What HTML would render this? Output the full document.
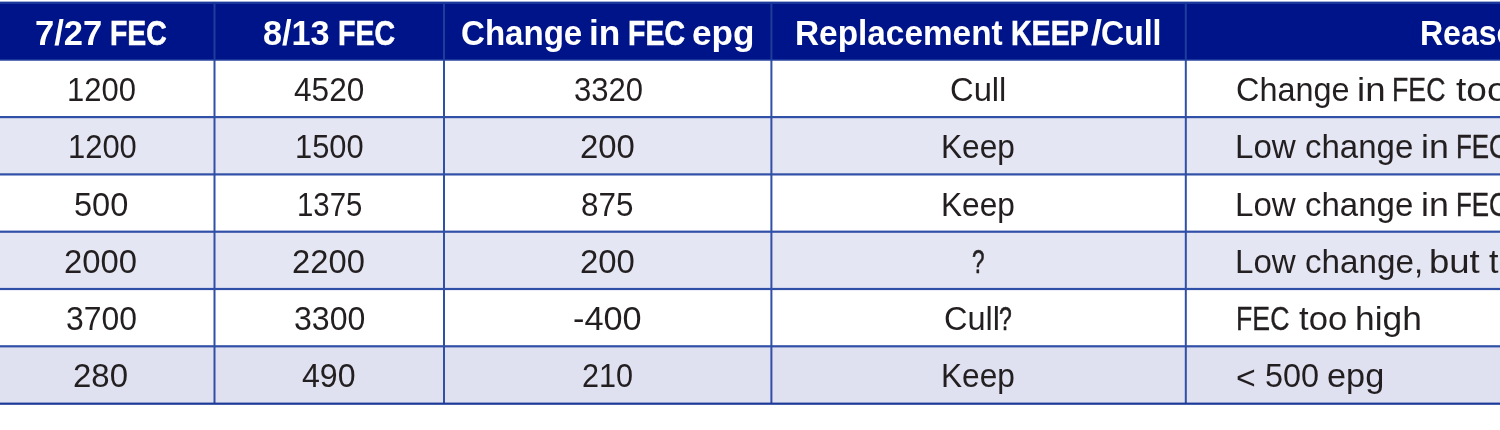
<!DOCTYPE html><html><head><meta charset="utf-8"><title>FEC table</title><style>html,body{margin:0;padding:0;background:#fff}
body{width:1500px;height:430px;position:relative;overflow:hidden;font-family:"Liberation Sans",sans-serif;color:#231f20}
.tbl{position:absolute;left:0;top:0;width:1500px;height:430px;overflow:hidden}
.grid{position:absolute;left:0;top:0}
.w{position:absolute;white-space:pre;transform-origin:0 0;line-height:40px;height:40px}
.h{font-weight:bold;font-size:34.5px;color:#fff}
.b{font-size:33.5px}
.n{font-size:32.8px}
</style></head><body><div class="tbl">
<svg class="grid" width="1500" height="430" viewBox="0 0 1500 430"><rect x="-5" y="1.6" width="1510" height="59.10" fill="#1c3a9c"/><rect x="-5" y="3.9" width="1510" height="55.20" fill="#001489"/><rect x="-5" y="117.10" width="1510" height="57.30" fill="#e5e6f3"/><rect x="-5" y="231.70" width="1510" height="57.30" fill="#e5e6f3"/><rect x="-5" y="346.30" width="1510" height="57.40" fill="#dfe0f0"/><rect x="213.50" y="3.9" width="2.0" height="56.80" fill="#1f3e9c"/><rect x="213.50" y="60.70" width="2.0" height="343.00" fill="#304fa6"/><rect x="443.00" y="3.9" width="2.0" height="56.80" fill="#1f3e9c"/><rect x="443.00" y="60.70" width="2.0" height="343.00" fill="#304fa6"/><rect x="770.40" y="3.9" width="2.0" height="56.80" fill="#1f3e9c"/><rect x="770.40" y="60.70" width="2.0" height="343.00" fill="#304fa6"/><rect x="1184.80" y="3.9" width="2.0" height="56.80" fill="#1f3e9c"/><rect x="1184.80" y="60.70" width="2.0" height="343.00" fill="#304fa6"/><rect x="-5" y="116.00" width="1510" height="2.2" fill="#304fa6"/><rect x="-5" y="173.30" width="1510" height="2.2" fill="#304fa6"/><rect x="-5" y="230.60" width="1510" height="2.2" fill="#304fa6"/><rect x="-5" y="287.90" width="1510" height="2.2" fill="#304fa6"/><rect x="-5" y="345.20" width="1510" height="2.2" fill="#304fa6"/><rect x="-5" y="402.60" width="1510" height="2.2" fill="#1c3a98"/></svg>
<div class="row head"><span class="cell"><span class="w h" style="left:34.52px;top:13px;transform:scaleX(1.0020)">7/27</span> <span class="w h" style="left:109.83px;top:13px;transform:scaleX(0.8219);-webkit-text-stroke:0.56px currentColor">FEC</span></span><span class="cell"><span class="w h" style="left:262.63px;top:13px;transform:scaleX(0.9922)">8/13</span> <span class="w h" style="left:337.81px;top:13px;transform:scaleX(0.8280);-webkit-text-stroke:0.54px currentColor">FEC</span></span><span class="cell"><span class="w h" style="left:461.27px;top:13px;transform:scaleX(0.9585)">Change</span> <span class="w h" style="left:588.80px;top:13px;transform:scaleX(1.0210)">in</span> <span class="w h" style="left:628.22px;top:13px;transform:scaleX(0.8264);-webkit-text-stroke:0.54px currentColor">FEC</span> <span class="w h" style="left:691.80px;top:13px;transform:scaleX(1.0181)">epg</span></span><span class="cell"><span class="w h" style="left:794.92px;top:13px;transform:scaleX(0.9669)">Replacement</span> <span class="w h" style="left:1010.92px;top:13px;transform:scaleX(0.8274);-webkit-text-stroke:0.54px currentColor">KEEP</span><span class="w h" style="left:1090.50px;top:13px;transform:scaleX(1.1440)">/</span><span class="w h" style="left:1101.40px;top:13px;transform:scaleX(0.9284)">Cull</span></span><span class="cell"><span class="w h" style="left:1420.10px;top:13px;transform:scaleX(0.9275)">Reason</span></span></div>
<div class="row"><span class="cell"><span class="w n" style="left:67.36px;top:70px;transform:scaleX(0.9458)">1200</span></span><span class="cell"><span class="w n" style="left:294.01px;top:70px;transform:scaleX(0.9632)">4520</span></span><span class="cell"><span class="w n" style="left:573.63px;top:70px;transform:scaleX(0.9462)">3320</span></span><span class="cell"><span class="w b" style="left:949.77px;top:70px;transform:scaleX(0.9772)">Cull</span></span><span class="cell"><span class="w b" style="left:1235.68px;top:70px;transform:scaleX(0.9675)">Change</span> <span class="w b" style="left:1356.81px;top:70px;transform:scaleX(1.0951)">in</span> <span class="w b" style="left:1392.41px;top:70px;transform:scaleX(0.7972);-webkit-text-stroke:0.37px currentColor">FEC</span> <span class="w b" style="left:1455.60px;top:70px;transform:scaleX(1.1061)">too</span></span></div>
<div class="row"><span class="cell"><span class="w n" style="left:67.57px;top:127px;transform:scaleX(0.9429)">1200</span></span><span class="cell"><span class="w n" style="left:295.07px;top:127px;transform:scaleX(0.9415)">1500</span></span><span class="cell"><span class="w n" style="left:579.96px;top:127px;transform:scaleX(1.0025)">200</span></span><span class="cell"><span class="w b" style="left:941.13px;top:127px;transform:scaleX(0.9439)">Keep</span></span><span class="cell"><span class="w b" style="left:1235.31px;top:127px;transform:scaleX(0.9891)">Low</span> <span class="w b" style="left:1305.47px;top:127px;transform:scaleX(0.9851)">change</span> <span class="w b" style="left:1421.36px;top:127px;transform:scaleX(1.0679)">in</span> <span class="w b" style="left:1456.48px;top:127px;transform:scaleX(0.7735);-webkit-text-stroke:0.41px currentColor">FEC</span></span></div>
<div class="row"><span class="cell"><span class="w n" style="left:73.98px;top:185px;transform:scaleX(0.9927)">500</span></span><span class="cell"><span class="w n" style="left:297.46px;top:185px;transform:scaleX(0.8953)">1375</span></span><span class="cell"><span class="w n" style="left:581.22px;top:185px;transform:scaleX(0.9566)">875</span></span><span class="cell"><span class="w b" style="left:941.13px;top:185px;transform:scaleX(0.9439)">Keep</span></span><span class="cell"><span class="w b" style="left:1235.31px;top:185px;transform:scaleX(0.9891)">Low</span> <span class="w b" style="left:1305.47px;top:185px;transform:scaleX(0.9851)">change</span> <span class="w b" style="left:1421.36px;top:185px;transform:scaleX(1.0679)">in</span> <span class="w b" style="left:1456.48px;top:185px;transform:scaleX(0.7735);-webkit-text-stroke:0.41px currentColor">FEC</span></span></div>
<div class="row"><span class="cell"><span class="w n" style="left:64.46px;top:242px;transform:scaleX(0.9998)">2000</span></span><span class="cell"><span class="w n" style="left:292.36px;top:242px;transform:scaleX(0.9984)">2200</span></span><span class="cell"><span class="w n" style="left:579.96px;top:242px;transform:scaleX(1.0025)">200</span></span><span class="cell"><span class="w b" style="left:972.00px;top:242px;transform:scaleX(0.6687);-webkit-text-stroke:0.60px currentColor">?</span></span><span class="cell"><span class="w b" style="left:1235.31px;top:242px;transform:scaleX(0.9891)">Low</span> <span class="w b" style="left:1305.46px;top:242px;transform:scaleX(0.9908)">change,</span> <span class="w b" style="left:1428.72px;top:242px;transform:scaleX(1.0899)">but</span> <span class="w b" style="left:1488.50px;top:242px;transform:scaleX(1.0189)">too</span></span></div>
<div class="row"><span class="cell"><span class="w n" style="left:65.80px;top:299px;transform:scaleX(0.9729)">3700</span></span><span class="cell"><span class="w n" style="left:293.70px;top:299px;transform:scaleX(0.9786)">3300</span></span><span class="cell"><span class="w n" style="left:572.93px;top:299px;transform:scaleX(1.0454)">-400</span></span><span class="cell"><span class="w b" style="left:943.67px;top:299px;transform:scaleX(0.9716)">Cull</span><span class="w b" style="left:999.48px;top:299px;transform:scaleX(0.6866);-webkit-text-stroke:0.56px currentColor">?</span></span><span class="cell"><span class="w b" style="left:1236.21px;top:299px;transform:scaleX(0.7972);-webkit-text-stroke:0.37px currentColor">FEC</span> <span class="w b" style="left:1298.90px;top:299px;transform:scaleX(1.0351)">too</span> <span class="w b" style="left:1355.49px;top:299px;transform:scaleX(1.0546)">high</span></span></div>
<div class="row"><span class="cell"><span class="w n" style="left:73.16px;top:356px;transform:scaleX(1.0044)">280</span></span><span class="cell"><span class="w n" style="left:302.20px;top:356px;transform:scaleX(0.9795)">490</span></span><span class="cell"><span class="w n" style="left:581.86px;top:356px;transform:scaleX(0.9337)">210</span></span><span class="cell"><span class="w b" style="left:941.13px;top:356px;transform:scaleX(0.9439)">Keep</span></span><span class="cell"><span class="w b" style="left:1236.32px;top:358px;transform:scaleX(1.0090)">&lt;</span> <span class="w b" style="left:1264.89px;top:356px;transform:scaleX(0.9664)">500</span> <span class="w b" style="left:1327.23px;top:356px;transform:scaleX(1.0233)">epg</span></span></div>
</div></body></html>
